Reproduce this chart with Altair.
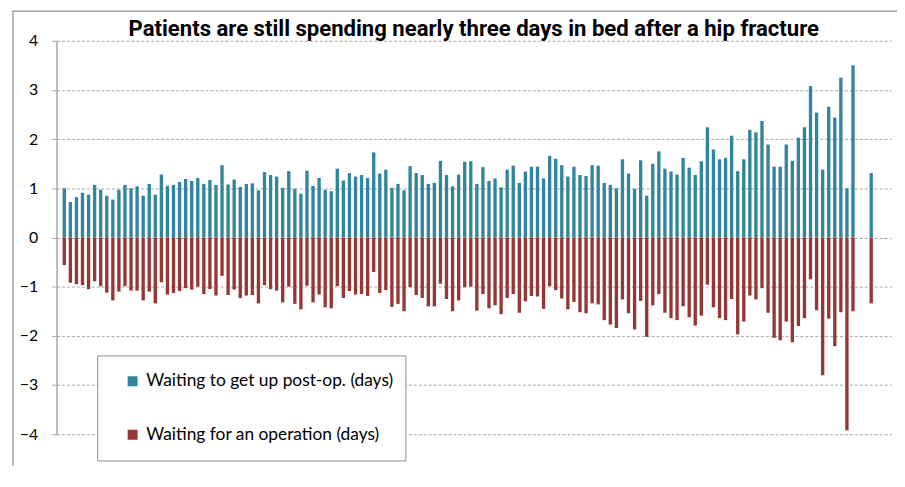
import altair as alt
import pandas as pd

# Days waiting to get up after the operation (blue, plotted upward)
post_op = [
    1.00, 0.72, 0.82, 0.91, 0.87, 1.07, 0.97, 0.85, 0.77, 0.97,
    1.07, 1.00, 1.04, 0.85, 1.09, 0.87, 1.28, 1.05, 1.07, 1.13,
    1.19, 1.15, 1.21, 1.09, 1.17, 1.07, 1.47, 1.08, 1.18, 1.03,
    1.09, 1.10, 0.96, 1.33, 1.27, 1.24, 1.01, 1.35, 0.99, 0.89,
    1.36, 1.05, 1.21, 0.97, 0.94, 1.40, 1.16, 1.31, 1.24, 1.27,
    1.21, 1.73, 1.30, 1.38, 1.01, 1.09, 0.96, 1.45, 1.31, 1.27,
    1.09, 1.11, 1.56, 1.27, 1.04, 1.28, 1.54, 1.55, 1.09, 1.43,
    1.15, 1.20, 1.02, 1.38, 1.46, 1.11, 1.34, 1.44, 1.44, 1.20,
    1.66, 1.60, 1.47, 1.24, 1.44, 1.27, 1.25, 1.47, 1.46, 1.11,
    1.07, 1.00, 1.59, 1.30, 0.99, 1.57, 0.85, 1.50, 1.75, 1.40,
    1.34, 1.28, 1.62, 1.42, 1.27, 1.55, 2.24, 1.79, 1.59, 1.62,
    2.07, 1.35, 1.59, 2.19, 2.14, 2.37, 1.89, 1.44, 1.44, 1.89,
    1.56, 2.03, 2.24, 3.08, 2.54, 1.38, 2.66, 2.44, 3.25, 1.00,
    3.50, 1.31,
]

# Days waiting for an operation (red, plotted downward)
pre_op = [
    -0.56, -0.92, -0.95, -0.97, -1.05, -0.89, -0.99, -1.12, -1.28, -1.10,
    -0.99, -1.08, -1.08, -1.28, -1.10, -1.34, -0.91, -1.16, -1.13, -1.09,
    -1.03, -1.06, -1.00, -1.15, -1.05, -1.18, -0.78, -1.17, -1.06, -1.23,
    -1.18, -1.17, -1.34, -0.97, -1.05, -1.08, -1.32, -1.00, -1.35, -1.46,
    -0.98, -1.32, -1.16, -1.42, -1.44, -0.99, -1.23, -1.09, -1.16, -1.15,
    -1.19, -0.70, -1.13, -1.07, -1.41, -1.35, -1.50, -1.01, -1.17, -1.23,
    -1.40, -1.40, -0.94, -1.25, -1.50, -1.28, -1.01, -1.00, -1.49, -1.15,
    -1.44, -1.38, -1.56, -1.23, -1.15, -1.53, -1.30, -1.19, -1.20, -1.45,
    -0.99, -1.07, -1.24, -1.46, -1.31, -1.52, -1.54, -1.34, -1.36, -1.68,
    -1.77, -1.84, -1.26, -1.54, -1.87, -1.29, -2.02, -1.38, -1.15, -1.53,
    -1.64, -1.68, -1.40, -1.62, -1.79, -1.59, -0.96, -1.42, -1.64, -1.68,
    -1.25, -1.97, -1.71, -1.18, -1.26, -1.03, -1.53, -2.04, -2.09, -1.71,
    -2.13, -1.80, -1.64, -0.85, -1.48, -2.80, -1.65, -2.21, -1.52, -3.92,
    -1.50, -1.34,
]

# Category slots on the x axis (some slots are empty in the original)
all_slots = list(range(1, 139))
bar_slots = list(range(2, 133)) + [135]

series_up = "Waiting to get up post-op. (days)"
series_down = "Waiting for an operation (days)"
series_names = [series_up, series_down]
series_colors = ["#31859C", "#953735"]
y_ticks = [-4, -3, -2, -1, 0, 1, 2, 3, 4]

title_text = "Patients are still spending nearly three days in bed after a hip fracture"

rows = []
for s, a, b in zip(bar_slots, post_op, pre_op):
    rows.append({"slot": s, "series": series_up, "value": a})
    rows.append({"slot": s, "series": series_down, "value": b})
df = pd.DataFrame(rows)

W, H = 842, 397
GRAY = "#A6A6A6"

bars = alt.Chart(df).mark_bar().encode(
    x=alt.X("slot:O", scale=alt.Scale(domain=all_slots, paddingInner=0.45, paddingOuter=0), axis=None),
    y=alt.Y(
        "value:Q",
        stack=None,
        scale=alt.Scale(domain=[-4, 4], nice=False),
        axis=alt.Axis(
            values=y_ticks, format="d", title=None, grid=True,
            gridDash=[3, 2], gridColor=GRAY, gridWidth=1,
            domainColor=GRAY, domainWidth=1.5, tickColor=GRAY, tickSize=5,
            labelFont="Lato", labelFontSize=16, labelColor="black", labelPadding=14,
        ),
    ),
    color=alt.Color(
        "series:N",
        scale=alt.Scale(domain=series_names, range=series_colors),
        sort=series_names,
        legend=alt.Legend(
            orient="none", legendX=41, legendY=317.5, title=None, direction="vertical",
            fillColor="white", strokeColor="#8C8C8C", padding=12, symbolOffset=15,
            clipHeight=28, rowPadding=26, symbolType="square", symbolSize=100,
            symbolStrokeWidth=0, labelFont="Lato", labelFontSize=17.5,
            labelColor="black", labelOffset=5, labelLimit=400,
        ),
    ),
)

frame_df = pd.DataFrame({"k": [0]})
frame_left = alt.Chart(frame_df).mark_rule(color="#8F8F8F", strokeWidth=1.2).encode(
    x=alt.value(-44), x2=alt.value(-44), y=alt.value(-30.5), y2=alt.value(520)
)
frame_top = alt.Chart(frame_df).mark_rect(color="#8F8F8F", opacity=1).encode(
    x=alt.value(-44.6), x2=alt.value(848), y=alt.value(-30.6), y2=alt.value(-29.4)
)

chart = alt.layer(frame_left, frame_top, bars).properties(
    width=W,
    height=H,
    title=alt.TitleParams(
        title_text, anchor="middle", font="Roboto", fontSize=22.3, fontWeight="bold",
        color="black", offset=2, dy=33,
    ),
    autosize=alt.AutoSizeParams(type="none"),
    padding={"left": 49, "top": 31, "right": 6, "bottom": 30},
).configure_view(stroke=None)

chart.save("out.html", embed_options={"renderer": "svg", "actions": False})
